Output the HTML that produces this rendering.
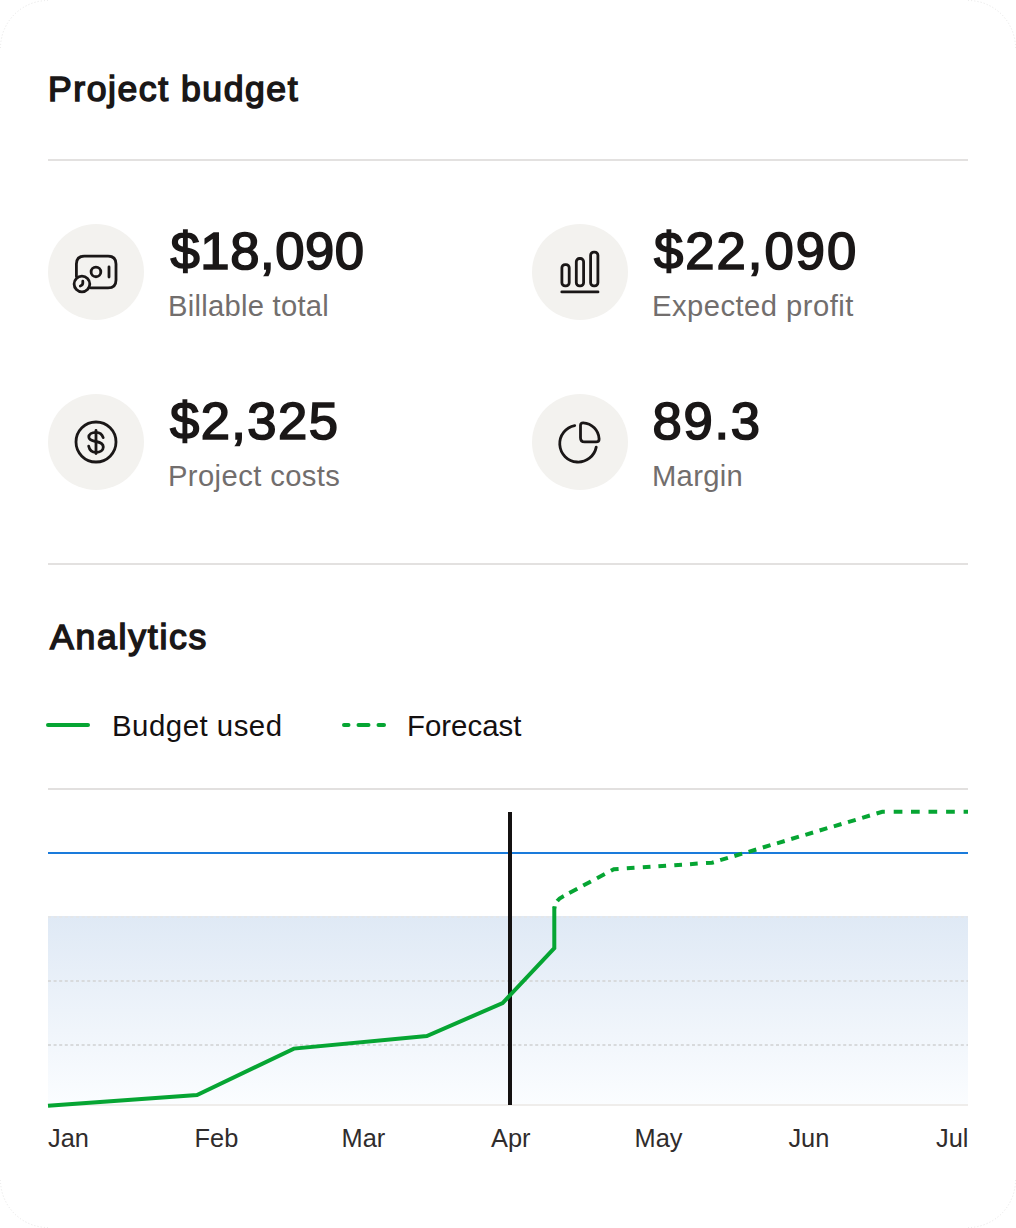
<!DOCTYPE html>
<html>
<head>
<meta charset="utf-8">
<style>
html,body{margin:0;padding:0;background:#ffffff;}
body{width:1016px;height:1228px;position:relative;overflow:hidden;font-family:"Liberation Sans",Arial,sans-serif;}
.card{position:absolute;left:0;top:0;width:1016px;height:1228px;border-radius:48px;background:#fff;}
.t{position:absolute;white-space:nowrap;line-height:1;}
.h{font-weight:400;font-size:35.6px;color:#1a1717;-webkit-text-stroke:1.5px #1a1717;}
.num{font-weight:400;font-size:52.6px;color:#1a1717;-webkit-text-stroke:1.7px #1a1717;}
.lbl{font-size:29.2px;color:#726e6d;}
.leg{font-size:29.4px;color:#141010;}
.mon{font-size:25.4px;color:#302c2c;}
.div{position:absolute;left:48px;width:920px;height:2px;background:#e3e1e0;}
.ic{position:absolute;width:96px;height:96px;border-radius:50%;background:#f3f2ef;}
svg{position:absolute;left:0;top:0;overflow:visible;}
</style>
</head>
<body>
<div class="card"></div>

<div class="t h" style="left:48px;top:71.6px;letter-spacing:1.55px;">Project budget</div>
<div class="div" style="top:159px;"></div>

<!-- stats -->
<div class="ic" style="left:48px;top:224px;"></div>
<div class="ic" style="left:532px;top:224px;"></div>
<div class="ic" style="left:48px;top:394px;"></div>
<div class="ic" style="left:532px;top:394px;"></div>

<div class="t num" style="left:170.5px;top:225px;letter-spacing:0.58px;">$18,090</div>
<div class="t lbl" style="left:168px;top:291.5px;letter-spacing:0.26px;">Billable total</div>
<div class="t num" style="left:654px;top:225px;letter-spacing:2.03px;">$22,090</div>
<div class="t lbl" style="left:652px;top:291.5px;letter-spacing:0.47px;">Expected profit</div>
<div class="t num" style="left:170px;top:395px;letter-spacing:1.42px;">$2,325</div>
<div class="t lbl" style="left:168px;top:461.5px;letter-spacing:0.4px;">Project costs</div>
<div class="t num" style="left:652.5px;top:395px;letter-spacing:1.7px;">89.3</div>
<div class="t lbl" style="left:652px;top:461.5px;letter-spacing:0.3px;">Margin</div>

<div class="div" style="top:563px;"></div>

<div class="t h" style="left:50px;top:619.5px;letter-spacing:1.75px;">Analytics</div>

<div class="t leg" style="left:112px;top:711px;letter-spacing:0.5px;">Budget used</div>
<div class="t leg" style="left:407px;top:711px;">Forecast</div>

<div class="t mon" style="left:48px;top:1125.5px;">Jan</div>
<div class="t mon" style="left:194.5px;top:1125.5px;">Feb</div>
<div class="t mon" style="left:341.5px;top:1125.5px;">Mar</div>
<div class="t mon" style="left:491px;top:1125.5px;">Apr</div>
<div class="t mon" style="left:634.6px;top:1125.5px;">May</div>
<div class="t mon" style="left:788.4px;top:1125.5px;">Jun</div>
<div class="t mon" style="left:936px;top:1125.5px;">Jul</div>

<svg width="1016" height="1228" viewBox="0 0 1016 1228">
  <defs>
    <linearGradient id="g" x1="0" y1="0" x2="0" y2="1">
      <stop offset="0" stop-color="#dfe9f5"/>
      <stop offset="1" stop-color="#fbfdff"/>
    </linearGradient>
  </defs>
  <g fill="none" stroke="#e6e6e6" stroke-width="1" stroke-dasharray="1 2.2">
    <path d="M0.5 48 A47.5 47.5 0 0 1 48 0.5"/>
    <path d="M968 0.5 A47.5 47.5 0 0 1 1015.5 48"/>
    <path d="M1015.5 1180 A47.5 47.5 0 0 1 968 1227.5"/>
    <path d="M48 1227.5 A47.5 47.5 0 0 1 0.5 1180"/>
  </g>
  <!-- icons -->
  <g fill="none" stroke="#1a1717" stroke-width="2.8" stroke-linecap="round" stroke-linejoin="round">
    <!-- billable -->
    <path d="M76.4 276.6 V264.1 Q76.4 256.15 84.35 256.15 H108.05 Q116 256.15 116 264.1 V279.95 Q116 287.9 108.05 287.9 H90.8"/>
    <circle cx="81.95" cy="283.95" r="7.85"/>
    <path d="M82.8 281.2 V283.3 Q82.7 285.2 80.3 286"/>
    <circle cx="95.95" cy="271.9" r="4.85"/>
    <path d="M109 266.9 V277"/>
    <!-- bars -->
    <rect x="561.9" y="264.65" width="7.3" height="21.2" rx="3.2"/>
    <rect x="576.3" y="258.5" width="7.3" height="27.35" rx="3.2"/>
    <rect x="590.6" y="252.1" width="7.3" height="33.75" rx="3.2"/>
    <path d="M561.8 291.95 H598"/>
    <!-- dollar -->
    <circle cx="96" cy="442" r="20"/>
    <path d="M103.2 437.6 C102 434 99.2 432.3 96 432.3 C91.8 432.3 88.8 434.4 88.8 437.1 C88.8 439.9 91.8 440.8 96 441.5 C100.3 442.2 103.3 443.8 103.3 447 C103.3 450.2 100.2 452.4 96 452.4 C92.3 452.4 89.6 450.4 88.7 446.2"/>
    <path d="M96 430.5 V453.5"/>
    <!-- pie -->
    <path d="M596.22 447.13 A18.4 18.4 0 1 1 574.73 425.57"/>
    <path d="M580.5 425.5 Q580.5 422.75 583.2 422.8 A17 17 0 0 1 599.1 438.9 Q599.1 441.9 596.3 441.9 L584.7 441.9 Q580.5 441.9 580.5 437.7 Z"/>
  </g>

  <!-- legend -->
  <path d="M48 725 H88" stroke="#06a533" stroke-width="4" stroke-linecap="round" fill="none"/>
  <path d="M344 725 H384" stroke="#06a533" stroke-width="4" stroke-linecap="round" fill="none" stroke-dasharray="10 10" stroke-dashoffset="5.5"/>

  <!-- chart -->
  <rect x="48" y="916" width="920" height="189" fill="url(#g)"/>
  <path d="M48 789 H968" stroke="#e2e0df" stroke-width="2"/>
  <path d="M48 917 H968" stroke="#e4e7ea" stroke-width="2" stroke-dasharray="3 2.6"/>
  <path d="M48 981 H968 M48 1045 H968" stroke="#d8dadc" stroke-width="2" stroke-dasharray="3 2.6"/>
  <path d="M48 1105 H968" stroke="#efedeb" stroke-width="2"/>
  <path d="M48 853 H968" stroke="#1a7bdb" stroke-width="2"/>
  <path d="M510 812 V1105" stroke="#141111" stroke-width="4"/>
  <path d="M48 1105.7 L197 1095 L293.9 1048.6 L426.8 1036 L502.6 1003.1 L554.3 948.2 L554.3 907.3" stroke="#06a533" stroke-width="4" stroke-linejoin="miter" fill="none"/>
  <path d="M554.4 908.3L554.6 906.2 M557.2 900.9Q559.3 898.3 563.8 896.0 M569.3 893.0L577.3 888.8 M583.2 885.6L590.9 881.5 M597.0 878.2L604.8 874.1 M610.9 870.8L613.9 869.2L618.6 868.9 M626.8 868.3L634.5 867.8 M642.8 867.3L650.5 866.8 M658.4 866.3L666.1 865.7 M674.3 865.2L682.0 864.7 M690.0 864.2L697.7 863.6 M706.0 863.1L712.0 862.7L713.8 862.2 M720.2 860.2L727.9 857.9 M734.4 856.0L742.1 853.7 M748.6 851.8L756.3 849.5 M762.8 847.5L770.5 845.2 M777.0 843.3L784.7 841.0 M791.2 839.0L798.9 836.7 M805.4 834.8L813.1 832.5 M819.6 830.5L827.3 828.2 M833.8 826.3L841.5 824.0 M848.0 822.1L855.7 819.8 M862.2 817.8L869.9 815.5 M876.5 813.5L882.3 811.8L884.8 811.8 M893.7 811.8L902.4 811.8 M911.0 811.8L919.7 811.8 M928.5 811.8L937.2 811.8 M946.1 811.8L954.8 811.8 M963.6 811.8L968.0 811.8" stroke="#06a533" stroke-width="4" fill="none" stroke-linejoin="miter"/>
</svg>
</body>
</html>
